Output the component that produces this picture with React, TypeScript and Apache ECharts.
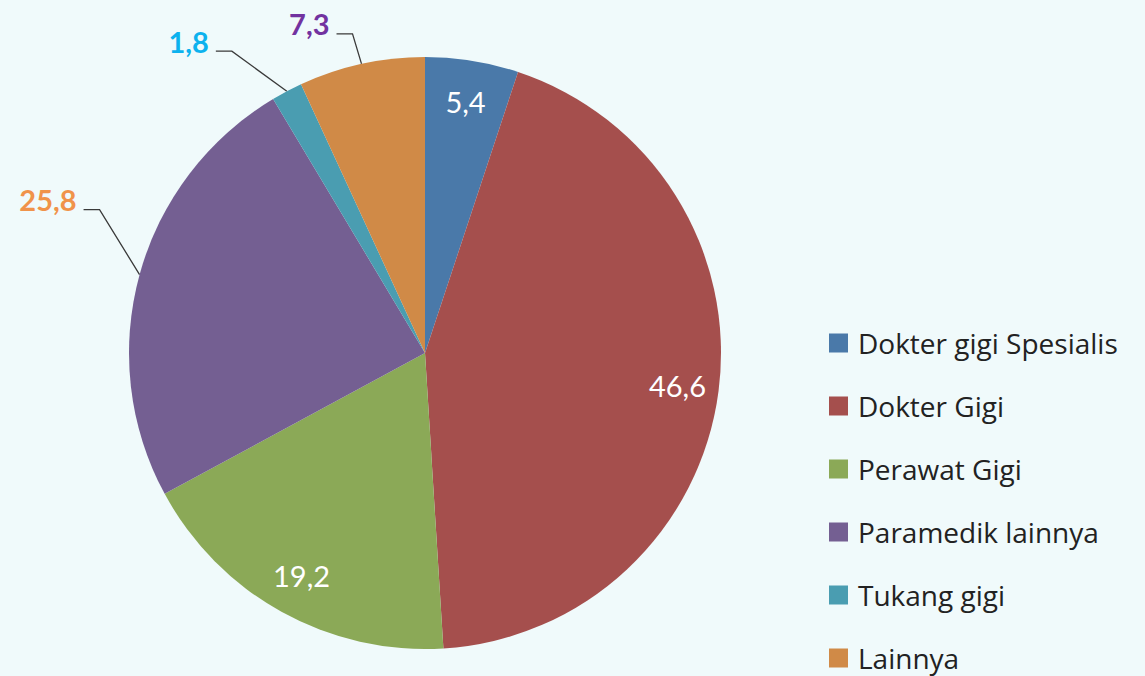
import React, { useEffect, useRef } from "react";
import * as echarts from "echarts";

const categories = [
  "Dokter gigi Spesialis",
  "Dokter Gigi",
  "Perawat Gigi",
  "Paramedik lainnya",
  "Tukang gigi",
  "Lainnya",
];
const values = [5.4, 46.6, 19.2, 25.8, 1.8, 7.3];

const sliceColors = ["#4A79A9", "#A54F4D", "#8BA957", "#745F92", "#4A9DB1", "#D08A47"];
const outsideLabelColors: Record<number, string> = { 3: "#F0934A", 4: "#0DB2EE", 5: "#7232A0" };
// leader-line elbow offsets (px) from the slice edge, per outside-labelled slice
const leaderOffsets: Record<number, [number, number]> = {
  3: [-40, -65],
  4: [-55, -40],
  5: [-9, -30],
};

const fmt = (v: number) => String(v).replace(".", ",");

export default function App() {
  const ref = useRef<HTMLDivElement>(null);
  useEffect(() => {
    if (!ref.current) return;
    const chart = echarts.init(ref.current, null, { renderer: "svg" });
    const R = 296;
    const center = [425, 353];
    const mainData = values.map((v, i) => {
      const outside = outsideLabelColors[i] != null;
      return {
        name: categories[i],
        value: v,
        itemStyle: { color: sliceColors[i] },
        label: {
          show: outside,
          color: outsideLabelColors[i] || "#000",
        },
        labelLine: { show: outside },
      };
    });
    const innerData = values.map((v, i) => ({
      name: categories[i],
      value: v,
      label: { show: outsideLabelColors[i] == null },
    }));
    chart.setOption({
      animation: false,
      backgroundColor: "#F0FAFB",
      legend: {
        orient: "vertical",
        left: 829,
        top: 329,
        padding: 0,
        height: 400,
        data: categories,
        icon: "rect",
        itemWidth: 19,
        itemHeight: 19,
        itemGap: 35,
        selectedMode: false,
        textStyle: {
          fontFamily: "Open Sans",
          fontSize: 28,
          lineHeight: 28,
          color: "#222222",
          padding: [0, 0, 0, 5],
        },
      },
      series: [
        {
          type: "pie",
          center,
          radius: R,
          startAngle: 90,
          clockwise: true,
          avoidLabelOverlap: false,
          silent: true,
          data: mainData,
          label: {
            position: "outside",
            fontFamily: "Lato",
            fontSize: 29,
            fontWeight: "bold",
            formatter: (p: any) => fmt(p.value),
          },
          labelLine: {
            show: true,
            length: 20,
            length2: 16,
            lineStyle: { color: "#3a3a3a", width: 1.3 },
          },
          labelLayout: (params: any) => {
            const off = leaderOffsets[params.dataIndex];
            const pts = params.labelLinePoints;
            if (!off || !pts) return {};
            const p0 = pts[0];
            const p1 = [p0[0] + off[0], p0[1] + off[1]];
            const p2 = [p1[0] - 16, p1[1]];
            return {
              x: p2[0] - 7,
              y: p2[1] - 10,
              align: "right",
              verticalAlign: "middle",
              labelLinePoints: [p0, p1, p2],
            };
          },
        },
        {
          type: "pie",
          center,
          radius: [R * 0.7, R],
          startAngle: 90,
          clockwise: true,
          silent: true,
          legendHoverLink: false,
          itemStyle: { color: "transparent" },
          data: innerData,
          label: {
            position: "inside",
            color: "#FFFFFF",
            fontFamily: "Lato",
            fontSize: 29,
            formatter: (p: any) => fmt(p.value),
          },
          labelLine: { show: false },
        },
      ],
    });
    return () => chart.dispose();
  }, []);
  return (
    <div
      ref={ref}
      style={{ position: "fixed", left: 0, top: 0, width: 1145, height: 676 }}
    />
  );
}
